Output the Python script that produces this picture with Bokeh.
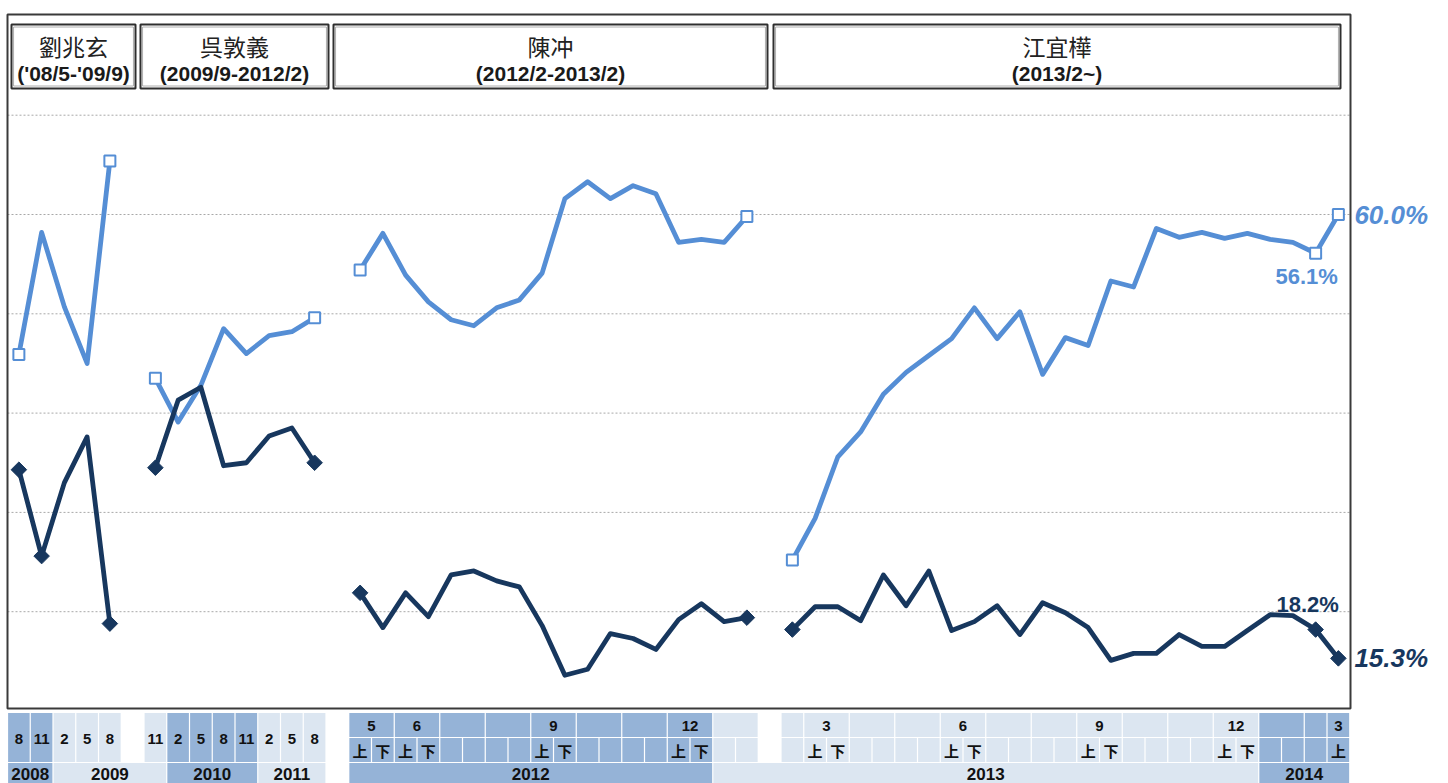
import numpy as np
from bokeh.plotting import figure
from bokeh.models import Range1d, ColumnDataSource
from bokeh.embed import file_html
from bokeh.resources import INLINE
from bokeh.core.properties import value

# ---------------- data ----------------
# time axis: 59 survey slots (index = column in bottom table)
liu_slots = [0, 1, 2, 3, 4]
liu_light = [45.9, 58.2, 50.7, 45.0, 65.4]
liu_dark = [34.3, 25.6, 33.0, 37.6, 18.8]

wu_slots = [6, 7, 8, 9, 10, 11, 12, 13]
wu_light = [43.5, 39.1, 42.8, 48.5, 46.0, 47.8, 48.2, 49.6]
wu_dark = [34.5, 41.3, 42.6, 34.7, 35.0, 37.7, 38.5, 35.0]

chen_slots = list(range(15, 33))
chen_light = [54.4, 58.1, 53.9, 51.2, 49.4, 48.8, 50.6, 51.4, 54.1, 61.6, 63.3, 61.6,
              62.9, 62.1, 57.2, 57.5, 57.2, 59.8]
chen_dark = [21.9, 18.4, 21.9, 19.5, 23.7, 24.1, 23.1, 22.5, 18.6, 13.6, 14.2, 17.8,
             17.3, 16.2, 19.2, 20.8, 19.0, 19.4]

jiang_slots = list(range(34, 59))
jiang_light = [25.2, 29.4, 35.6, 38.1, 41.9, 44.1, 45.8, 47.5, 50.6, 47.5, 50.2, 43.9,
               47.6, 46.8, 53.3, 52.7, 58.6, 57.7, 58.2, 57.6, 58.1, 57.5, 57.2, 56.1, 60.0]
jiang_dark = [18.2, 20.5, 20.5, 19.1, 23.7, 20.6, 24.1, 18.1, 19.0, 20.6, 17.7, 20.9,
              19.9, 18.4, 15.1, 15.8, 15.8, 17.7, 16.5, 16.5, 18.1, 19.7, 19.6, 18.2, 15.3]

# marker positions (indices within each segment)
light_marks = {"liu": [0, 4], "wu": [0, 7], "chen": [0, 17], "jiang": [0, 23, 24]}
dark_marks = {"liu": [0, 1, 4], "wu": [0, 7], "chen": [0, 17], "jiang": [0, 23, 24]}

terms = ["劉兆玄", "呉敦義", "陳冲", "江宜樺"]
term_dates = ["('08/5-'09/9)", "(2009/9-2012/2)", "(2012/2-2013/2)", "(2013/2~)"]

grid_values = [20, 30, 40, 50, 60, 70]

# bottom table
year_cells = [("2008", 0, 2, "d"), ("2009", 2, 5, "l"), ("2010", 7, 4, "d"),
              ("2011", 11, 3, "l"), ("2012", 15, 16, "d"), ("2013", 31, 24, "l"),
              ("2014", 55, 4, "d")]
tall_month_cells = [("8", 0, "d"), ("11", 1, "d"), ("2", 2, "l"), ("5", 3, "l"), ("8", 4, "l"),
                    ("11", 6, "l"), ("2", 7, "d"), ("5", 8, "d"), ("8", 9, "d"), ("11", 10, "d"),
                    ("2", 11, "l"), ("5", 12, "l"), ("8", 13, "l")]
month_cells = [("5", 15, 2, "d"), ("6", 17, 2, "d"), ("", 19, 2, "d"), ("", 21, 2, "d"),
               ("9", 23, 2, "d"), ("", 25, 2, "d"), ("", 27, 2, "d"), ("12", 29, 2, "d"),
               ("", 31, 2, "l"), ("", 34, 1, "l"), ("3", 35, 2, "l"), ("", 37, 2, "l"),
               ("", 39, 2, "l"), ("6", 41, 2, "l"), ("", 43, 2, "l"), ("", 45, 2, "l"),
               ("9", 47, 2, "l"), ("", 49, 2, "l"), ("", 51, 2, "l"), ("12", 53, 2, "l"),
               ("", 55, 2, "d"), ("", 57, 1, "d"), ("3", 58, 1, "d")]
half_slots = list(range(15, 33)) + list(range(34, 59))
half_labels = {15: "上", 16: "下", 17: "上", 18: "下", 23: "上", 24: "下", 29: "上", 30: "下",
               35: "上", 36: "下", 41: "上", 42: "下", 47: "上", 48: "下", 53: "上", 54: "下",
               58: "上"}

# ---------------- layout helpers ----------------
LIGHT = "#558ED5"
DARK = "#17375E"
CELL = {"d": "#95B3D7", "l": "#DCE6F1"}

W, H = 1440, 783
KX = 22.75          # px per slot
KY = 9.93           # px per percentage point
PAGE_X0, PAGE_Y0 = 0, 0
SLOT0 = 7           # page x of the first slot's left edge


def vx(page_x):
    return (page_x - SLOT0) / KX


def vy(page_y):
    return 60 - (page_y - 214) / KY


p = figure(width=W, height=H, x_range=Range1d(vx(PAGE_X0), vx(PAGE_X0 + W)),
           y_range=Range1d(vy(PAGE_Y0 + H), vy(PAGE_Y0)),
           toolbar_location=None, output_backend="svg", min_border=0,
           x_axis_location=None, y_axis_location=None)
p.outline_line_color = None
p.background_fill_color = "white"
p.xgrid.visible = False
p.ygrid.visible = False

frame_l, frame_r = vx(7), vx(1350)
frame_t, frame_b = vy(14), vy(708)

# gridlines
p.segment(x0=[frame_l] * len(grid_values), x1=[frame_r] * len(grid_values),
          y0=grid_values, y1=grid_values, line_color="#a8a8a8", line_width=1,
          line_dash="2 2")

# frame
p.quad(left=[frame_l], right=[frame_r], top=[frame_t], bottom=[frame_b],
       fill_color=None, line_color="#3a3a3a", line_width=2)

# header boxes
box_px = [(11, 135), (140, 328), (333, 767), (773, 1340)]
bl = [vx(a) for a, b in box_px]
br = [vx(b) for a, b in box_px]
p.quad(left=bl, right=br, top=[vy(24)] * 4, bottom=[vy(88)] * 4,
       fill_color="white", line_color="#2f2f2f", line_width=2)
p.quad(left=[x + 0.09 for x in bl], right=[x - 0.09 for x in br],
       top=[vy(26.5)] * 4, bottom=[vy(85.5)] * 4,
       fill_color=None, line_color="#9a9a9a", line_width=0.8)
cx = [(a + b) / 2 for a, b in zip(bl, br)]
p.text(x=cx, y=[vy(45)] * 4, text=terms, text_align="center", text_baseline="middle",
       text_font=value("Noto Sans CJK TC"), text_font_size="23px", text_color="#222222")
p.text(x=cx, y=[vy(73)] * 4, text=term_dates, text_align="center", text_baseline="middle",
       text_font=value("Liberation Sans"), text_font_style="bold",
       text_font_size="21px", text_color="#1a1a1a")

# series
segments = [("liu", liu_slots, liu_light, liu_dark),
            ("wu", wu_slots, wu_light, wu_dark),
            ("chen", chen_slots, chen_light, chen_dark),
            ("jiang", jiang_slots, jiang_light, jiang_dark)]
for name, slots, light, dark in segments:
    xs = [s + 0.5 for s in slots]
    p.line(xs, light, line_color=LIGHT, line_width=4.8, line_join="round")
    p.line(xs, dark, line_color=DARK, line_width=4.8, line_join="round")
for name, slots, light, dark in segments:
    xs = [s + 0.5 for s in slots]
    li = light_marks[name]
    di = dark_marks[name]
    p.scatter([xs[i] for i in di], [dark[i] for i in di], marker="square",
              angle=np.pi / 4, size=11, fill_color=DARK, line_color=DARK, line_width=1)
    p.scatter([xs[i] for i in li], [light[i] for i in li], marker="square",
              size=11, fill_color="white", line_color=LIGHT, line_width=2)

# value labels
last_x = jiang_slots[-1] + 0.5
prev_x = jiang_slots[-2] + 0.5
p.text(x=[last_x], y=[jiang_light[-1]], text=[f"{jiang_light[-1]:.1f}%"], x_offset=16,
       text_align="left", text_baseline="middle", text_font=value("Liberation Sans"),
       text_font_style="bold italic", text_font_size="26px", text_color=LIGHT)
p.text(x=[last_x], y=[jiang_dark[-1]], text=[f"{jiang_dark[-1]:.1f}%"], x_offset=16,
       text_align="left", text_baseline="middle", text_font=value("Liberation Sans"),
       text_font_style="bold italic", text_font_size="26px", text_color=DARK)
p.text(x=[prev_x], y=[jiang_light[-2]], text=[f"{jiang_light[-2]:.1f}%"], x_offset=-9,
       y_offset=23, text_align="center", text_baseline="middle",
       text_font=value("Liberation Sans"), text_font_style="bold",
       text_font_size="22px", text_color=LIGHT)
p.text(x=[prev_x], y=[jiang_dark[-2]], text=[f"{jiang_dark[-2]:.1f}%"], x_offset=-8,
       y_offset=-25, text_align="center", text_baseline="middle",
       text_font=value("Liberation Sans"), text_font_style="bold",
       text_font_size="22px", text_color=DARK)

# ---------------- bottom table ----------------
G = 0.6 / KX


def cells(rows, top, bottom, size, text_mid, font="Liberation Sans"):
    src = ColumnDataSource(dict(
        left=[r[1] + G for r in rows], right=[r[1] + r[2] - G for r in rows],
        color=[CELL[r[3]] for r in rows], label=[r[0] for r in rows],
        cx=[r[1] + r[2] / 2 for r in rows]))
    p.quad(left="left", right="right", top=vy(top), bottom=vy(bottom),
           fill_color="color", line_color=None, source=src)
    p.text(x="cx", y=vy(text_mid), text="label", source=src,
           text_align="center", text_baseline="middle", text_font=value(font),
           text_font_style="bold", text_font_size=size, text_color="#111111")


cells([(t, s, 1, c) for t, s, c in tall_month_cells], 712.5, 761.5, "15px", 738)
cells(month_cells, 712.5, 736.5, "15px", 725)


def shade(slot):
    for _, s, n, c in year_cells:
        if s <= slot < s + n:
            return c
    return "l"


cells([(half_labels.get(s, ""), s, 1, shade(s)) for s in half_slots], 737.5, 761.5, "15px",
      750, font="Noto Sans CJK TC")
cells(year_cells, 762.5, 790, "17px", 773)

open("out.html", "w").write(file_html(p, INLINE))
